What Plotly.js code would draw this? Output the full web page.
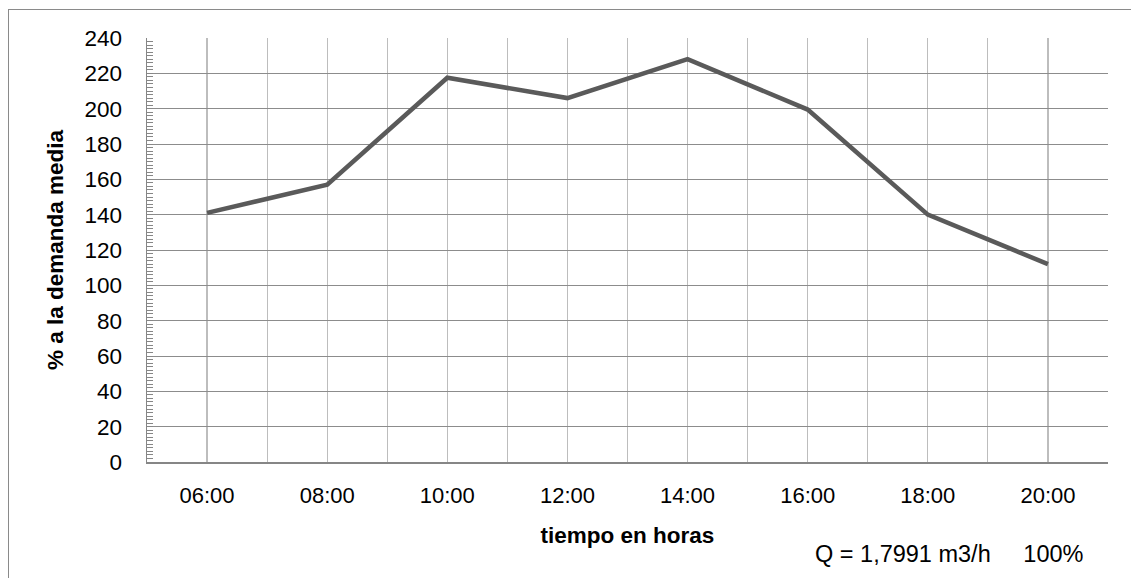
<!DOCTYPE html>
<html>
<head>
<meta charset="utf-8">
<script src="https://cdn.plot.ly/plotly-3.0.1.min.js"></script>
<style>
  html, body { margin: 0; padding: 0; background: #fff; }
  #chart { width: 1131px; height: 578px; position: absolute; left: 0; top: 0; }
  #frame { position: absolute; left: 8px; top: 9px; width: 1123px; height: 569px;
           border-left: 1.5px solid #8a8a8a; border-top: 1.5px solid #8a8a8a;
           pointer-events: none; box-sizing: border-box; }
</style>
</head>
<body>
<div id="chart"></div>
<div id="frame"></div>
<script>
const categories = ["06:00", "08:00", "10:00", "12:00", "14:00", "16:00", "18:00", "20:00"];
const demandPct = [141, 157, 217.5, 206, 228, 199.5, 140, 112];
const yTicks = [0, 20, 40, 60, 80, 100, 120, 140, 160, 180, 200, 220, 240];
const xTitle = "tiempo en horas";
const yTitle = "% a la demanda media";
const noteText = "Q = 1,7991 m3/h     100%";

const xIdx = categories.map((_, i) => i);
const boundaries = categories.concat([""]).map((_, i) => i - 0.5);

const font = "Liberation Sans, Arial, sans-serif";

const trace = {
  type: "scatter",
  mode: "lines",
  x: xIdx,
  y: demandPct,
  line: { color: "#5a5a5a", width: 4.5, shape: "linear" },
  hoverinfo: "x+y"
};

const layout = {
  width: 1131,
  height: 578,
  margin: { l: 147, r: 23, t: 38, b: 116 },
  paper_bgcolor: "#ffffff",
  plot_bgcolor: "#ffffff",
  showlegend: false,
  font: { family: font, color: "#000000", size: 22 },
  xaxis: {
    range: [-0.5, categories.length - 0.5],
    tickmode: "array",
    tickvals: xIdx,
    ticktext: categories,
    ticks: "",
    showgrid: true,
    gridcolor: "#bdbdbd",
    gridwidth: 1.2,
    showline: true,
    linecolor: "#868686",
    linewidth: 1.5,
    zeroline: false,
    ticklabelstandoff: 13,
    tickfont: { family: font, size: 22, color: "#000" },
    minor: { tickmode: "array", tickvals: boundaries, showgrid: true, gridcolor: "#bdbdbd", gridwidth: 1.2, ticks: "" },
    title: { text: xTitle, font: { family: font, size: 22.5, color: "#000", weight: "bold" }, standoff: 20 }
  },
  yaxis: {
    range: [0, 240],
    tickmode: "array",
    tickvals: yTicks,
    ticks: "inside",
    ticklen: 6,
    tickcolor: "#868686",
    tickwidth: 1,
    showgrid: true,
    gridcolor: "#8c8c8c",
    gridwidth: 1,
    showline: true,
    linecolor: "#868686",
    linewidth: 1.5,
    zeroline: false,
    ticklabelstandoff: 19,
    tickfont: { family: font, size: 22.5, color: "#000" },
    minor: { dtick: 2, ticks: "inside", ticklen: 6, tickcolor: "#868686", tickwidth: 1, showgrid: false },
    title: { text: yTitle, font: { family: font, size: 22.5, color: "#000", weight: "bold" }, standoff: 14 }
  },
  annotations: [
    {
      text: noteText,
      xref: "paper", yref: "paper",
      x: 0.9775, y: -0.218,
      xanchor: "right", yanchor: "middle",
      showarrow: false,
      font: { family: font, size: 23.5, color: "#000" }
    }
  ]
};

Plotly.newPlot("chart", [trace], layout, { displayModeBar: false, staticPlot: true });
</script>
</body>
</html>
